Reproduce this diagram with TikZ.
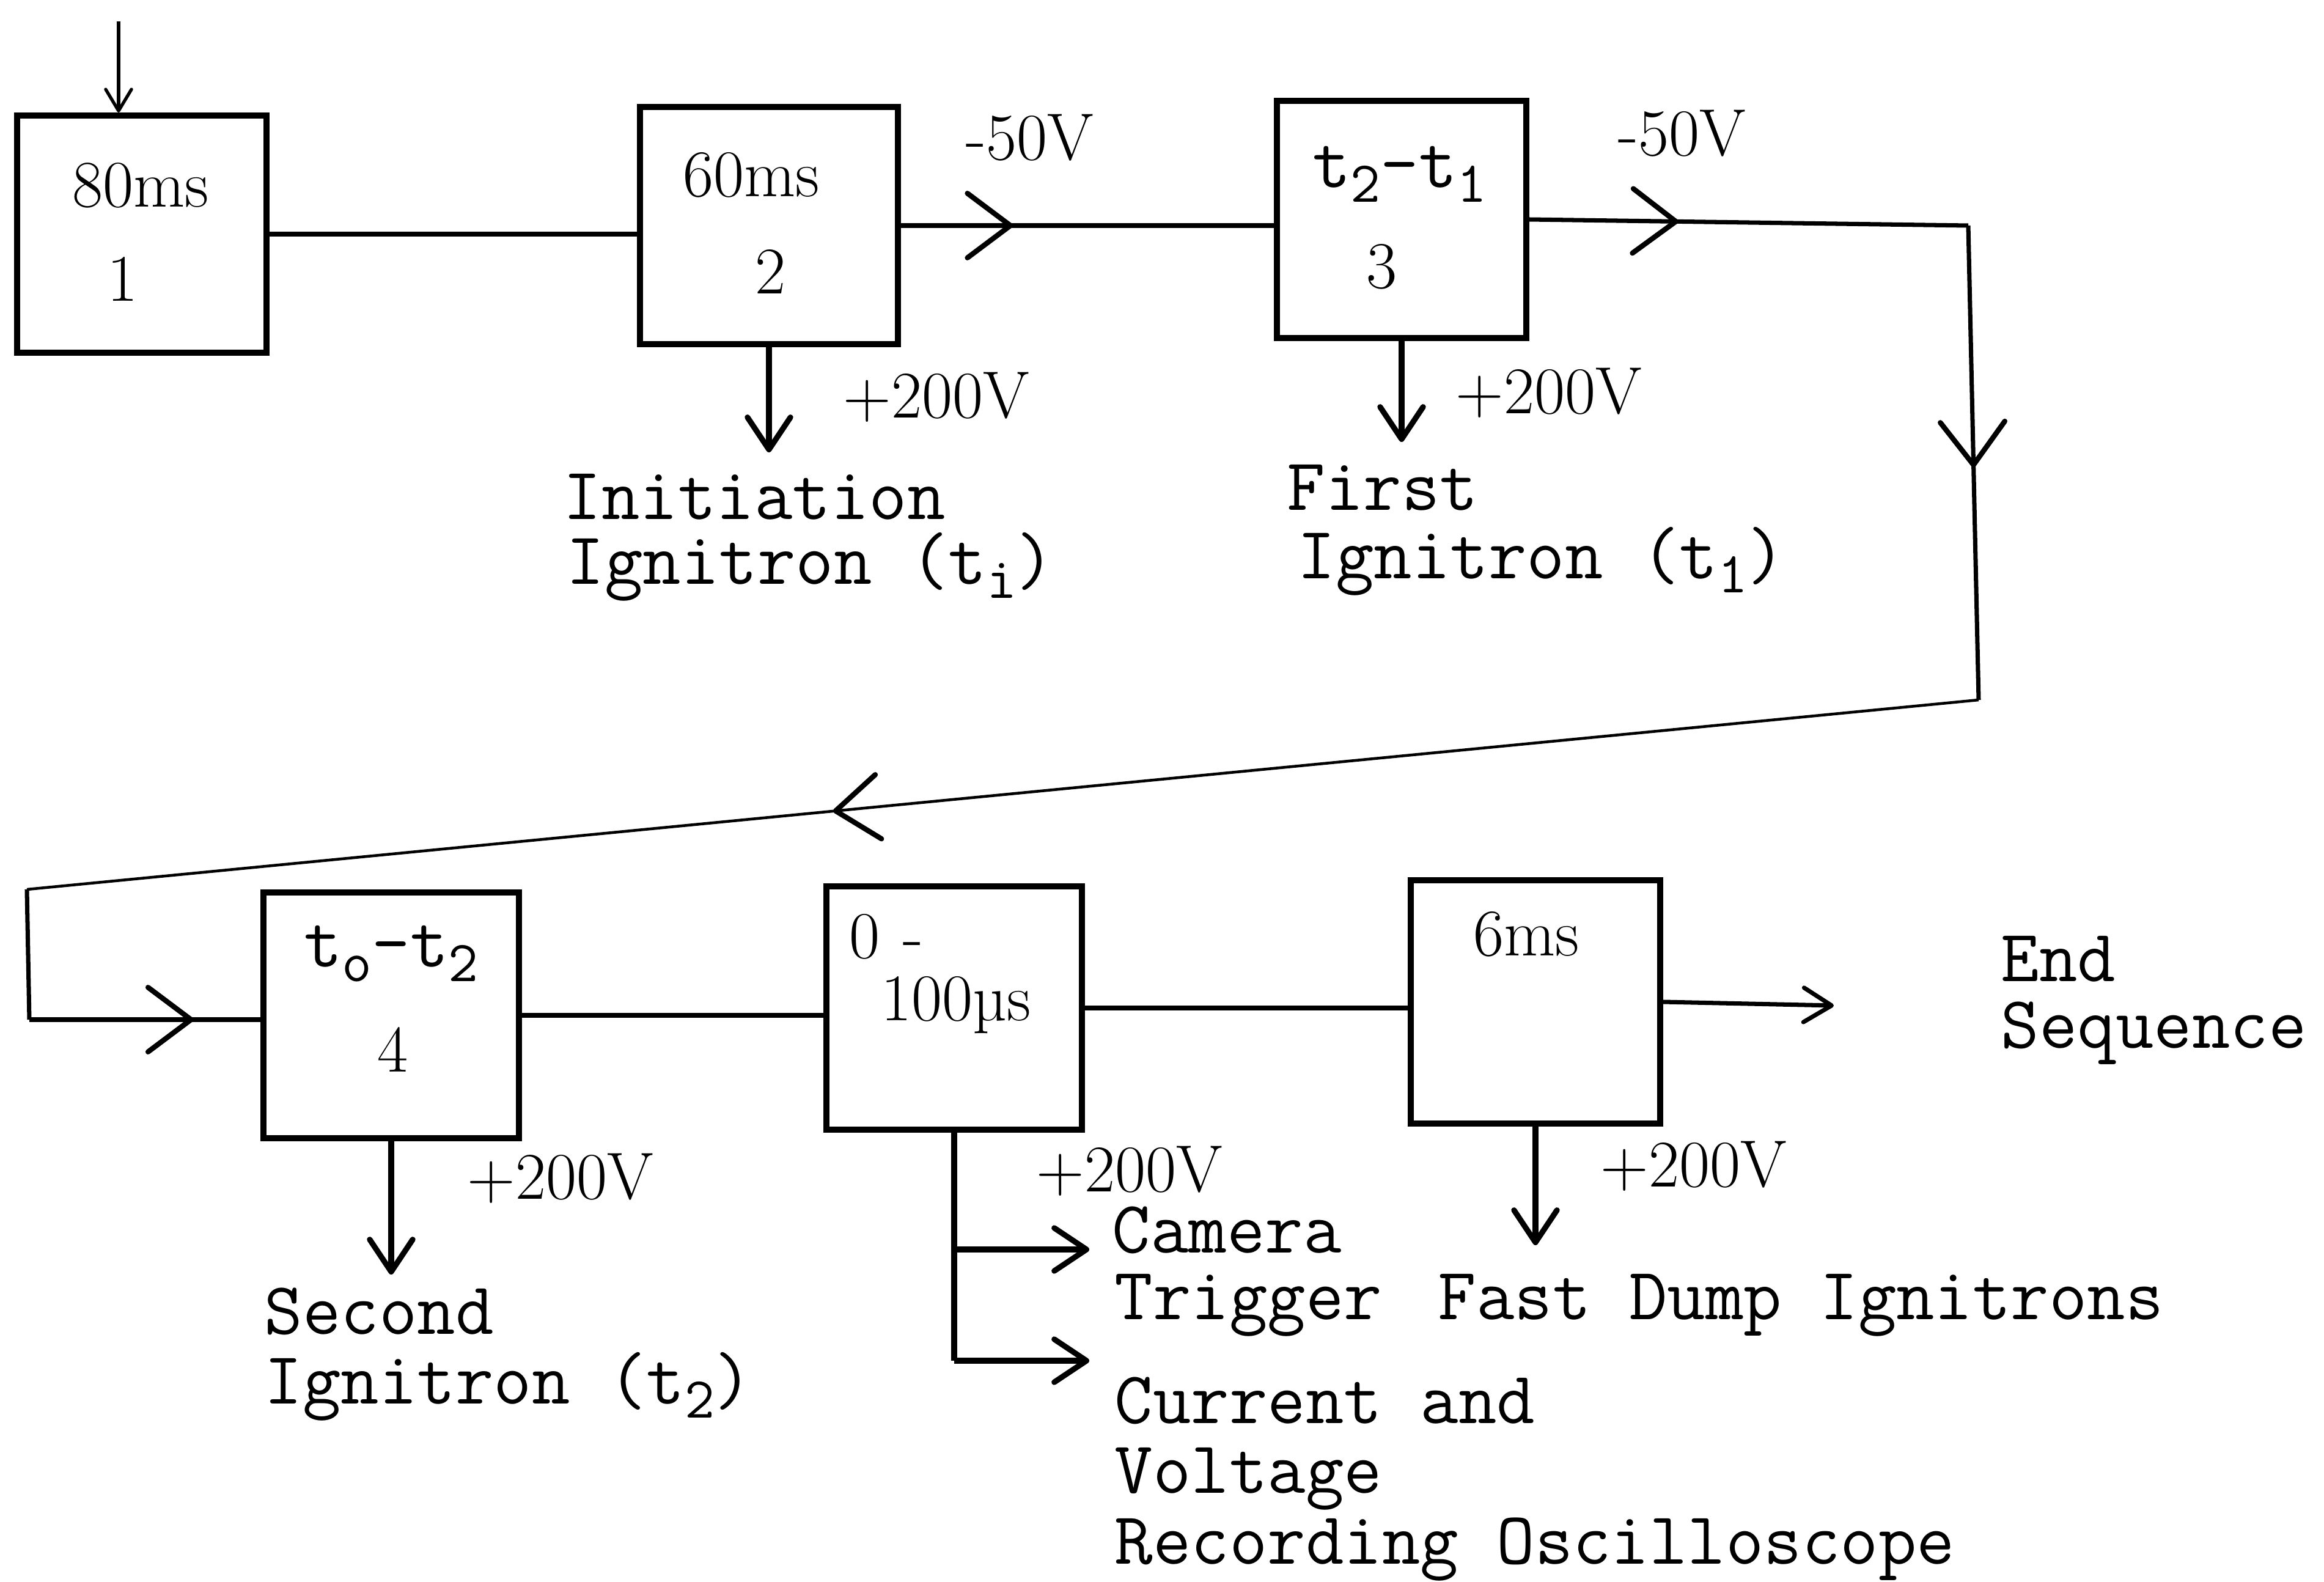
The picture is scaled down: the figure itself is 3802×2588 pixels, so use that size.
\documentclass[tikz,border=0pt]{standalone}
\usepackage{fontspec}
\usetikzlibrary{arrows.meta,decorations.markings}
\newcommand\lowsub[1]{\raisebox{-0.45ex}{\fontsize{27}{27}\selectfont #1}}
\tikzset{
  box/.style={draw,line width=2.8pt,inner sep=0pt},
  boxtxt/.style={inner sep=0pt,font=\fontsize{31}{36}\selectfont},
  volt/.style={inner sep=0pt,font=\fontsize{31}{36}\selectfont},
  lbl/.style={inner sep=0pt,anchor=base west,font=\ttfamily\fontsize{34.5}{38}\selectfont},
  conn/.style={line width=2pt},
  thinconn/.style={line width=1.3pt},
  midarrow/.style={postaction={decorate},decoration={markings,mark=at position #1 with {\arrow{Straight Barb[length=20pt,width=30pt,line width=2.4pt,round]}}}},
  downtip/.style={-{Straight Barb[length=15pt,width=20pt,line width=2.6pt,round]}},
  endtip/.style={-{Straight Barb[length=13pt,width=16pt,line width=2pt,round]}},
  intip/.style={-{Straight Barb[length=10pt,width=12pt,line width=1.5pt,round]}}
}
\begin{document}
\begin{tikzpicture}[x=0.01cm,y=-0.01cm]
\useasboundingbox (0,0) rectangle (3802,2588);
% boxes
\node[box,minimum width=4.07cm,minimum height=3.88cm] (b1) at (232,383) {};
\node[box,minimum width=4.22cm,minimum height=3.88cm] (b2) at (1258,369) {};
\node[box,minimum width=4.07cm,minimum height=3.88cm] (b3) at (2293,359) {};
\node[box,minimum width=4.17cm,minimum height=4.02cm] (b4) at (640,1661) {};
\node[box,minimum width=4.17cm,minimum height=3.98cm] (b5) at (1561,1649) {};
\node[box,minimum width=4.08cm,minimum height=3.98cm] (b6) at (2512,1639) {};
% box texts
\node[boxtxt] (b1a) at (230,303) {80ms};
\node[boxtxt] (b1b) at (201,456) {1};
\node[boxtxt] (b2a) at (1229,286) {60ms};
\node[boxtxt] (b2b) at (1261,444) {2};
\node[boxtxt,font=\ttfamily\fontsize{34.5}{38}\selectfont] (b3a) at (2290,285) {t\lowsub{2}-t\lowsub{1}};
\node[boxtxt] (b3b) at (2260,436) {3};
\node[boxtxt,font=\ttfamily\fontsize{34.5}{38}\selectfont] (b4a) at (640,1560) {t\lowsub{o}-t\lowsub{2}};
\node[boxtxt] (b4b) at (643,1717) {4};
\node[boxtxt] (b5a) at (1450,1532) {0\hspace{0.35em}-};
\node[boxtxt] (b5b) at (1564,1644) {100µs};
\node[boxtxt] (b6a) at (2497,1528) {6ms};
% input
\coordinate (in) at (194,35);
\draw[line width=1.5pt,intip] (in) -- (in |- b1.north);
% row 1
\draw[conn] (b1.east) -- (b1.east -| b2.west);
\draw[conn,midarrow=0.3] (b2.east) -- (b2.east -| b3.west);
\coordinate (c1) at (3220,369);
\coordinate (c2) at (3237,1145);
\coordinate (c3) at (44,1455);
\coordinate (c4) at (48,1668);
\draw[conn,midarrow=0.34] (b3.east) -- (c1);
\draw[conn,midarrow=0.51] (c1) -- (c2);
\draw[thinconn,midarrow=0.587] (c2) -- (c3);
\draw[conn] (c3) -- (c4);
\draw[conn,midarrow=0.71] (c4) -- (c4 -| b4.west);
% row 2
\draw[conn] (b4.east) -- (b4.east -| b5.west);
\draw[conn] (b5.east) -- (b5.east -| b6.west);
\coordinate (e6) at (3000,1645);
\draw[conn,endtip] (b6.east) -- (e6);
% down arrows
\coordinate (d2) at (1258,740);
\coordinate (d3) at (2293,723);
\coordinate (d4) at (640,2085);
\coordinate (d6) at (2512,2037);
\draw[conn,line width=2.6pt,downtip] (b2.south) -- (d2);
\draw[conn,line width=2.6pt,downtip] (b3.south) -- (d3);
\draw[conn,line width=2.6pt,downtip] (b4.south) -- (d4);
\draw[conn,line width=2.6pt,downtip] (b6.south) -- (d6);
\coordinate (k1) at (1561,2044);
\coordinate (k2) at (1561,2226);
\coordinate (k1e) at (1782,2044);
\coordinate (k2e) at (1782,2226);
\draw[conn,line width=2.6pt] (b5.south) -- (k2);
\draw[conn,line width=2.6pt,downtip] (k1) -- (k1e);
\draw[conn,line width=2.6pt,downtip] (k2) -- (k2e);
% voltages
\node[volt] (v1) at (1685,225) {-50V};
\node[volt] (v2) at (2752,218) {-50V};
\node[volt] (v3) at (1532,650) {+200V};
\node[volt] (v4) at (2534,643) {+200V};
\node[volt] (v5) at (917,1928) {+200V};
\node[volt] (v6) at (1848,1916) {+200V};
\node[volt] (v7) at (2771,1908) {+200V};
% labels
\node[lbl] (l1) at (921,849) {Initiation};
\node[lbl] (l2) at (926,955) {Ignitron (t\lowsub{i})};
\node[lbl] (l3) at (2105,834) {First};
\node[lbl] (l4) at (2122,946) {Ignitron (t\lowsub{1})};
\node[lbl] (l5) at (432,2182) {Second};
\node[lbl] (l6) at (432,2296) {Ignitron (t\lowsub{2})};
\node[lbl] (l7) at (1819,2049) {Camera};
\node[lbl] (l8) at (1823,2158) {Trigger};
\node[lbl] (l9) at (2352,2158) {Fast Dump Ignitrons};
\node[lbl] (l10) at (1823,2328) {Current and};
\node[lbl] (l11) at (1823,2442) {Voltage};
\node[lbl] (l12) at (1823,2558) {Recording Oscilloscope};
\node[lbl] (l13) at (3273,1605) {End};
\node[lbl] (l14) at (3273,1714) {Sequence};
\end{tikzpicture}
\end{document}
